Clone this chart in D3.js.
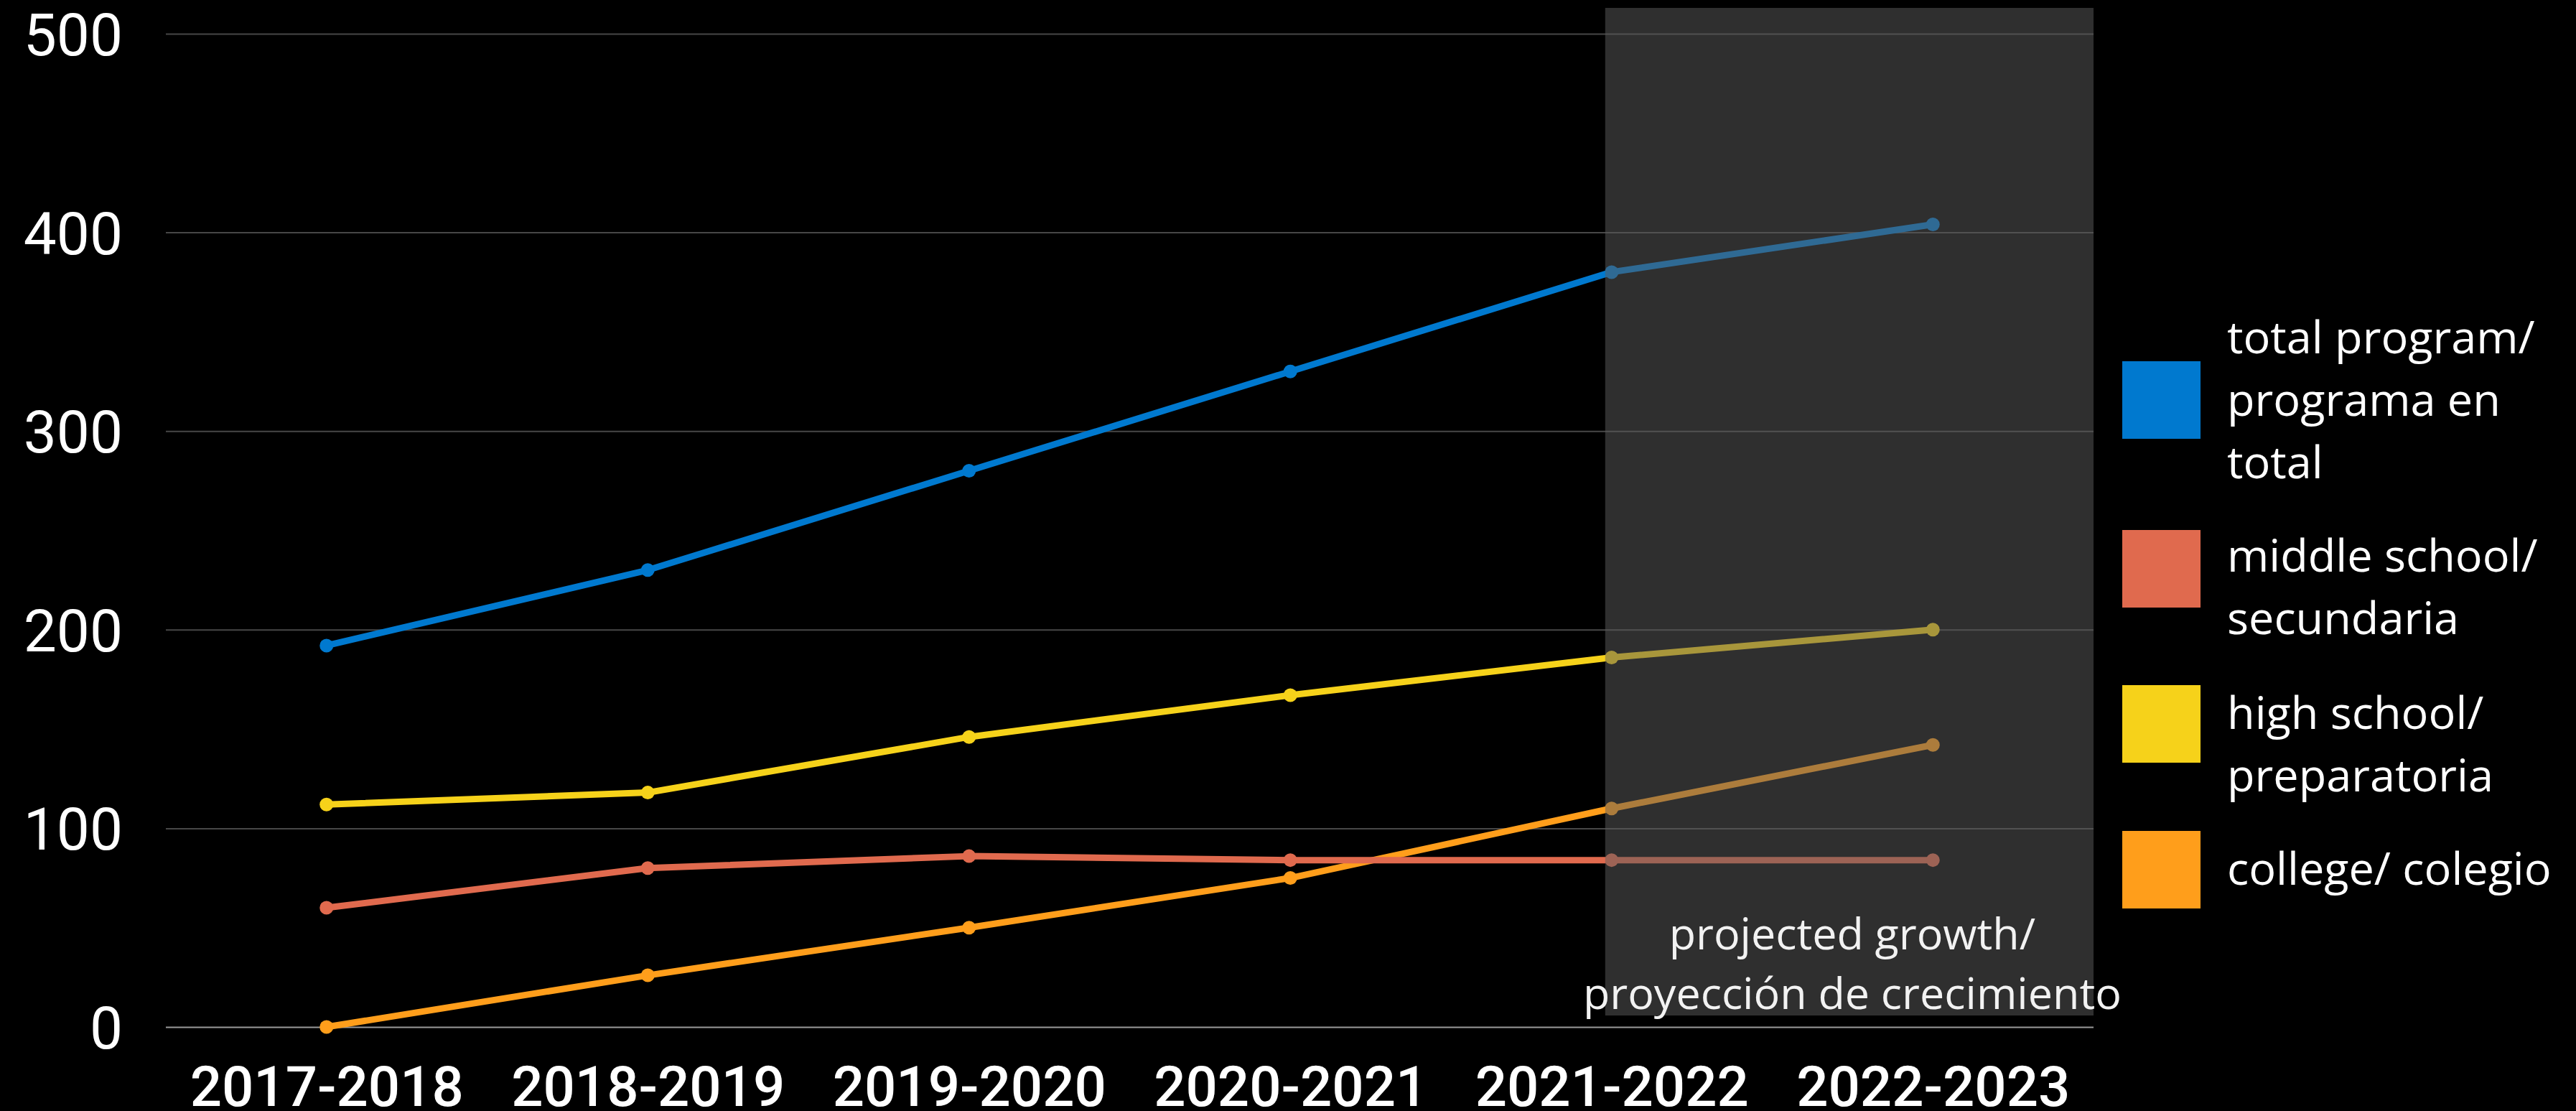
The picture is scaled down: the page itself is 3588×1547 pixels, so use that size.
<!DOCTYPE html>
<html>
<head>
<meta charset="utf-8">
<script src="https://cdn.jsdelivr.net/npm/d3@7"></script>
<style>
html, body { margin: 0; padding: 0; background: #000; }
svg { display: block; }
</style>
</head>
<body>
<script>
// school years on the x axis
var years = ["2017-2018", "2018-2019", "2019-2020", "2020-2021", "2021-2022", "2022-2023"];
// enrolment per series
var totalProgram = [192, 230, 280, 330, 380, 404];
var middleSchool = [60, 80, 86, 84, 84, 84];
var highSchool = [112, 118, 146, 167, 186, 200];
var college = [0, 26, 50, 75, 110, 142];
var yTicks = [0, 100, 200, 300, 400, 500];
// the last two years are the projection
var projectedFrom = "2021-2022";
var projectedTo = "2022-2023";

var seriesNames = [
  ["total program/", "programa en", "total"],
  ["middle school/", "secundaria"],
  ["high school/", "preparatoria"],
  ["college/ colegio"]
];
var seriesColors = ["#0079CF", "#E06A4E", "#F6D21A", "#FF9E1B"];

var width = 3588, height = 1547;
// plot edges (not named top/left: window.top is read only)
var plotL = 231, plotR = 2916, plotT = 47, plotB = 1430;

var svg = d3.select("body").append("svg")
  .attr("width", width)
  .attr("height", height);

var x = d3.scalePoint().domain(years).range([plotL, plotR]).padding(0.5);
var y = d3.scaleLinear().domain([0, 500]).range([plotB, plotT]);

// gridlines + y labels
var yAxis = svg.append("g")
  .attr("transform", "translate(" + plotL + ",0)")
  .call(d3.axisLeft(y).tickValues(yTicks).tickSize(-(plotR - plotL)).tickPadding(60));
yAxis.select(".domain").remove();
yAxis.selectAll(".tick line")
  .attr("stroke", function(d){ return d === 0 ? "#9a9a9a" : "#474747"; })
  .attr("stroke-width", 2);
yAxis.selectAll(".tick text")
  .attr("fill", "#fff")
  .attr("font-family", "Roboto, 'Liberation Sans', sans-serif")
  .attr("font-size", 82)
  .attr("dy", "0.36em");

// x labels
var xAxis = svg.append("g")
  .attr("transform", "translate(0," + plotB + ")")
  .call(d3.axisBottom(x).tickSize(0).tickPadding(55));
xAxis.select(".domain").remove();
xAxis.selectAll(".tick text")
  .attr("fill", "#fff")
  .attr("font-family", "Roboto, 'Liberation Sans', sans-serif")
  .attr("font-weight", 500)
  .attr("font-size", 78);

var allSeries = [totalProgram, middleSchool, highSchool, college];

var line = d3.line()
  .x(function(d, i){ return x(years[i]); })
  .y(function(d){ return y(d); });

// draw lower series first so total is on top like the original
[3, 2, 1, 0].forEach(function(k){
  var vals = allSeries[k];
  svg.append("path")
    .attr("d", line(vals))
    .attr("fill", "none")
    .attr("stroke", seriesColors[k])
    .attr("stroke-width", 9)
    .attr("stroke-linejoin", "round");
  svg.selectAll(".pt" + k)
    .data(vals)
    .enter()
    .append("circle")
    .attr("class", "pt" + k)
    .attr("cx", function(d, i){ return x(years[i]); })
    .attr("cy", function(d){ return y(d); })
    .attr("r", 9.5)
    .attr("fill", seriesColors[k]);
});

// shaded projection box, sits over the lines and dims them
var step = x.step();
var boxX0 = x(projectedFrom) - step * 0.02;
var boxX1 = x(projectedTo) + step * 0.5;
svg.append("rect")
  .attr("x", boxX0)
  .attr("y", 11)
  .attr("width", boxX1 - boxX0)
  .attr("height", 1414 - 11)
  .attr("fill", "#5c5c5c")
  .attr("fill-opacity", 0.51);

var noteX = (boxX0 + boxX1) / 2 + 4;
var note = svg.append("text")
  .attr("y", 1322)
  .attr("text-anchor", "middle")
  .attr("fill", "#f2f2f2")
  .attr("font-family", "'Open Sans', sans-serif")
  .attr("font-size", 61);
note.append("tspan").attr("x", noteX).text("projected growth/");
note.append("tspan").attr("x", noteX).attr("dy", 83).text("proyección de crecimiento");

// legend
var legendTops = [503, 738, 954, 1157];
var legendBase = [492, 796, 1015, 1232];
var legend = svg.append("g");
seriesNames.forEach(function(lines, k){
  legend.append("rect")
    .attr("x", 2956)
    .attr("y", legendTops[k])
    .attr("width", 109)
    .attr("height", 108)
    .attr("fill", seriesColors[k]);
  var t = legend.append("text")
    .attr("y", legendBase[k])
    .attr("fill", "#fff")
    .attr("font-family", "'Open Sans', sans-serif")
    .attr("font-size", 63);
  lines.forEach(function(s, j){
    t.append("tspan").attr("x", 3102).attr("dy", j === 0 ? 0 : 87).text(s);
  });
});
</script>
</body>
</html>
